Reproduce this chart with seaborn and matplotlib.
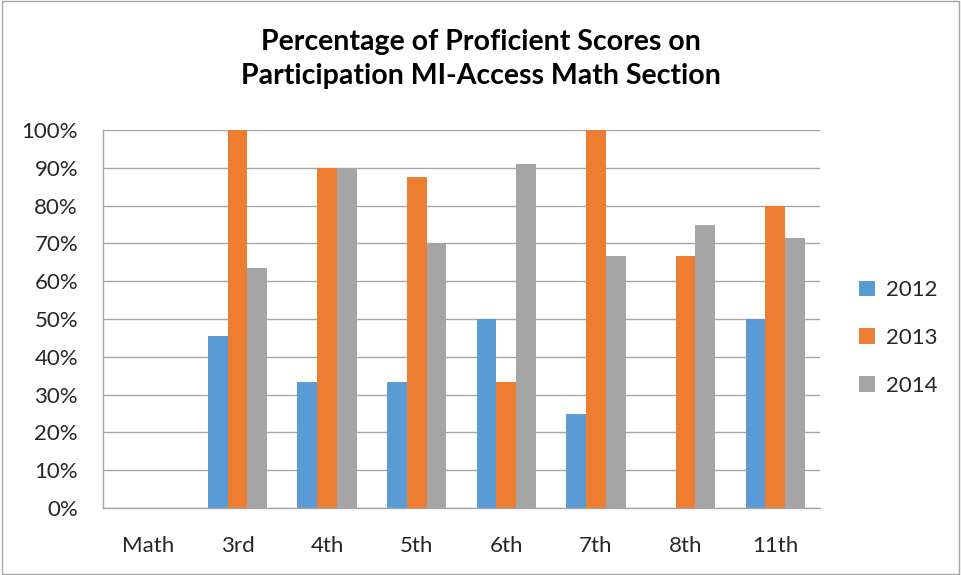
import numpy as np
import pandas as pd
import seaborn as sns
import matplotlib.pyplot as plt
from matplotlib.ticker import PercentFormatter
from matplotlib.patches import Rectangle

# Data (fraction proficient)
grades = ['Math', '3rd', '4th', '5th', '6th', '7th', '8th', '11th']
years = ['2012', '2013', '2014']
y2012 = [np.nan, 0.455, 0.333, 0.333, 0.50, 0.25, np.nan, 0.50]
y2013 = [np.nan, 1.00, 0.90, 0.875, 0.333, 1.00, 0.667, 0.80]
y2014 = [np.nan, 0.636, 0.90, 0.70, 0.909, 0.667, 0.75, 0.714]
colors = ['#5B9BD5', '#ED7D31', '#A5A5A5']

df = pd.DataFrame({'Grade': grades * 3,
                   'Year': [y for y in years for _ in grades],
                   'Score': y2012 + y2013 + y2014})

sns.set_theme(style='white')
plt.rcParams['font.family'] = ['Lato', 'DejaVu Sans']

fig = plt.figure(figsize=(9.61, 5.75), dpi=100)
ax = fig.add_axes([103 / 961, 1 - 508 / 575, 717 / 961, 378 / 575])

sns.barplot(data=df, x='Grade', y='Score', hue='Year', order=grades,
            hue_order=years, palette=colors, width=0.66, saturation=1,
            linewidth=0, ax=ax, legend=True)

ax.set_ylim(0, 1)
ax.set_yticks(np.arange(0, 1.01, 0.1))
ax.yaxis.set_major_formatter(PercentFormatter(1.0, decimals=0))
ax.grid(axis='y', color='#A6A6A6', linewidth=1)
ax.set_axisbelow(True)
ax.set_xlabel('')
ax.set_ylabel('')
for s in ['top', 'right']:
    ax.spines[s].set_visible(False)
for s in ['left', 'bottom']:
    ax.spines[s].set_color('#A6A6A6')
    ax.spines[s].set_linewidth(1)
ax.tick_params(axis='both', labelsize=16, colors='#262626', length=0)
ax.tick_params(axis='y', pad=18)
ax.tick_params(axis='x', pad=20)

ax.get_legend().remove()
handles, labels = ax.get_legend_handles_labels()
fig.legend(handles, labels, loc='center left', bbox_to_anchor=(0.873, 1 - 338 / 575),
           frameon=False, fontsize=16, handlelength=0.7, handleheight=0.7,
           labelspacing=1.25, handletextpad=0.5)

fig.text(0.5, 1 - 59 / 575, 'Percentage of Proficient Scores on\nParticipation MI-Access Math Section',
         ha='center', va='center', fontsize=20.5, fontweight='bold', color='#000000',
         linespacing=1.35)

fig.patches.append(Rectangle((0.002, 0.002), 0.996, 0.996, transform=fig.transFigure,
                             fill=False, edgecolor='#A6A6A6', linewidth=1))

fig.savefig('out.png', dpi=100)
